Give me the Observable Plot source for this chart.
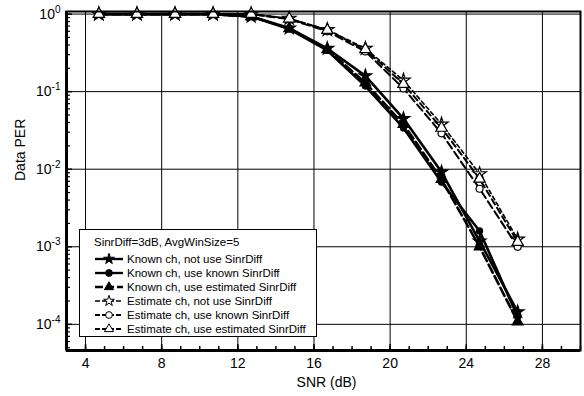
<!DOCTYPE html>
<html>
<head>
<meta charset="utf-8">
<script src="https://cdn.jsdelivr.net/npm/d3@7"></script>
<script src="https://cdn.jsdelivr.net/npm/@observablehq/plot@0.6"></script>
<style>
  body { margin: 0; background: #fff; }
  #wrap { position: relative; width: 584px; height: 396px; font-family: "Liberation Sans", Arial, sans-serif; }
  #legend { position: absolute; left: 79px; top: 229px; width: 238px; height: 108px; border: 1.5px solid #000; background: #fff; box-sizing: border-box; font-size: 11.5px; color: #000; }
  #legend .title { position: absolute; left: 14px; top: 6px; white-space: nowrap; }
  #legend .row { position: absolute; left: 14px; height: 14px; display: flex; align-items: center; white-space: nowrap; }
  #legend svg { display: block; margin-right: 3px; }
</style>
</head>
<body>
<div id="wrap"></div>
<script>
const snr = [4.7, 6.7, 8.7, 10.7, 12.7, 14.7, 16.7, 18.7, 20.7, 22.7, 24.7, 26.7];
const knownNotUse   = [1, 1, 1, 1, 0.93, 0.66, 0.36, 0.16, 0.045, 0.0092, 0.00118, 0.000145];
const knownUseKnown = [1, 1, 1, 1, 0.93, 0.64, 0.34, 0.118, 0.034, 0.0068, 0.0016, 0.000125];
const knownUseEst   = [1, 1, 1, 1, 0.93, 0.65, 0.35, 0.13, 0.038, 0.0074, 0.00100, 0.000108];
const estNotUse     = [1, 1, 1, 1, 1, 0.88, 0.63, 0.36, 0.14, 0.038, 0.0087, 0.00125];
const estUseKnown   = [1, 1, 1, 1, 1, 0.86, 0.60, 0.33, 0.11, 0.029, 0.0056, 0.00100];
const estUseEst     = [1, 1, 1, 1, 1, 0.87, 0.62, 0.35, 0.125, 0.034, 0.0075, 0.00115];
const seriesNames = [
  "Known ch, not use SinrDiff",
  "Known ch, use known SinrDiff",
  "Known ch, use estimated SinrDiff",
  "Estimate ch, not use SinrDiff",
  "Estimate ch, use known SinrDiff",
  "Estimate ch, use estimated SinrDiff"
];
const legendTitle = "SinrDiff=3dB, AvgWinSize=5";
const xTicks = [4, 8, 12, 16, 20, 24, 28];
const xMinor = d3.range(3, 31);
const yTicks = [1, 1e-1, 1e-2, 1e-3, 1e-4];
const xLabel = "SNR (dB)";
const yLabel = "Data PER";

const styles = [
  {values: knownNotUse,   symbol: "star",     fill: "black", dash: null,  width: 2.6, r: 4},
  {values: knownUseKnown, symbol: "circle",   fill: "black", dash: null,  width: 2.6, r: 3},
  {values: knownUseEst,   symbol: "triangle", fill: "black", dash: "9,4", width: 2.6, r: 4},
  {values: estNotUse,     symbol: "star",     fill: "white", dash: "4,3", width: 1.6, r: 4.2},
  {values: estUseKnown,   symbol: "circle",   fill: "white", dash: "8,4", width: 2.0, r: 3.5},
  {values: estUseEst,     symbol: "triangle", fill: "white", dash: "6,4", width: 2.0, r: 4.2}
];

const yMinor = [];
for (let e = -5; e <= 0; e++) for (let m = 2; m <= 9; m++) {
  const v = m * Math.pow(10, e);
  if (v >= 4.6e-5 && v <= 1.08) yMinor.push(v);
}

const marks = [
  Plot.gridX(xTicks, {stroke: "black", strokeOpacity: 1, strokeWidth: 1}),
  Plot.gridY(yTicks, {stroke: "black", strokeOpacity: 1, strokeWidth: 1}),
];
seriesNames.forEach((name, i) => {
  const s = styles[i];
  const rows = snr.map((x, j) => ({snr: x, per: s.values[j], name}));
  marks.push(Plot.line(rows, {x: "snr", y: "per", stroke: "black", strokeWidth: s.width, strokeDasharray: s.dash}));
  marks.push(Plot.dot(rows, {x: "snr", y: "per", symbol: s.symbol, r: s.r, fill: s.fill, stroke: "black", strokeWidth: 1.2}));
});
marks.push(
  Plot.axisX(xMinor, {tickSize: -4, tickFormat: () => "", strokeWidth: 1.5, label: null}),
  Plot.axisX(xTicks, {tickSize: -6, tickPadding: 14, fontSize: 14, strokeWidth: 1.5, label: null}),
  Plot.axisY(yMinor, {tickSize: -4, tickFormat: () => "", strokeWidth: 1.2, label: null}),
  Plot.axisY(yTicks, {tickSize: -6, tickPadding: 12, fontSize: 14, strokeWidth: 1.5, label: null,
    tickFormat: d => String(Math.round(Math.log10(d)))}),
  Plot.frame({stroke: "black", strokeWidth: 2}),
  Plot.ruleX([3], {stroke: "black", strokeWidth: 3}),
  Plot.ruleY([4.6e-5], {stroke: "black", strokeWidth: 3}),
  Plot.text([yLabel], {frameAnchor: "left", rotate: -90, dx: -46, fontSize: 14}),
  Plot.text([xLabel], {frameAnchor: "bottom", dy: 36, dx: 3, fontSize: 14})
);

const chart = Plot.plot({
  width: 584, height: 396,
  marginLeft: 66, marginRight: 4, marginTop: 11, marginBottom: 46,
  style: {fontFamily: "'Liberation Sans', Arial, sans-serif", fontSize: "14px", color: "black", background: "white"},
  x: {domain: [3, 30], label: null},
  y: {type: "log", domain: [4.6e-5, 1.08], label: null},
  marks
});

// superscript exponents on y tick labels
chart.querySelectorAll('[aria-label="y-axis tick label"] text').forEach(t => {
  const s = t.textContent;
  if (s === "") return;
  t.textContent = "";
  const ns = "http://www.w3.org/2000/svg";
  const a = document.createElementNS(ns, "tspan"); a.textContent = "10";
  const b = document.createElementNS(ns, "tspan"); b.textContent = s;
  b.setAttribute("dy", "-6"); b.setAttribute("font-size", "10");
  t.appendChild(a); t.appendChild(b);
});

const wrap = document.getElementById("wrap");
wrap.appendChild(chart);

// legend
const legend = document.createElement("div");
legend.id = "legend";
const title = document.createElement("div");
title.className = "title"; title.textContent = legendTitle;
legend.appendChild(title);
const rowTops = [22, 36, 50, 64, 78, 92];
seriesNames.forEach((name, i) => {
  const s = styles[i];
  const row = document.createElement("div");
  row.className = "row"; row.style.top = rowTops[i] + "px";
  const svg = d3.create("svg").attr("width", 30).attr("height", 12);
  svg.append("line").attr("x1", 1).attr("x2", 29).attr("y1", 6).attr("y2", 6)
    .attr("stroke", "black").attr("stroke-width", s.width * 0.9).attr("stroke-dasharray", s.dash ? (i === 2 ? "8,3" : "5,2") : null);
  svg.append("path").attr("transform", "translate(15,6)")
    .attr("d", d3.symbol(s.symbol === "star" ? d3.symbolStar : s.symbol === "circle" ? d3.symbolCircle : d3.symbolTriangle, 36)())
    .attr("fill", s.fill).attr("stroke", "black").attr("stroke-width", 1);
  row.appendChild(svg.node());
  const span = document.createElement("span"); span.textContent = name;
  row.appendChild(span);
  legend.appendChild(row);
});
wrap.appendChild(legend);
</script>
</body>
</html>
